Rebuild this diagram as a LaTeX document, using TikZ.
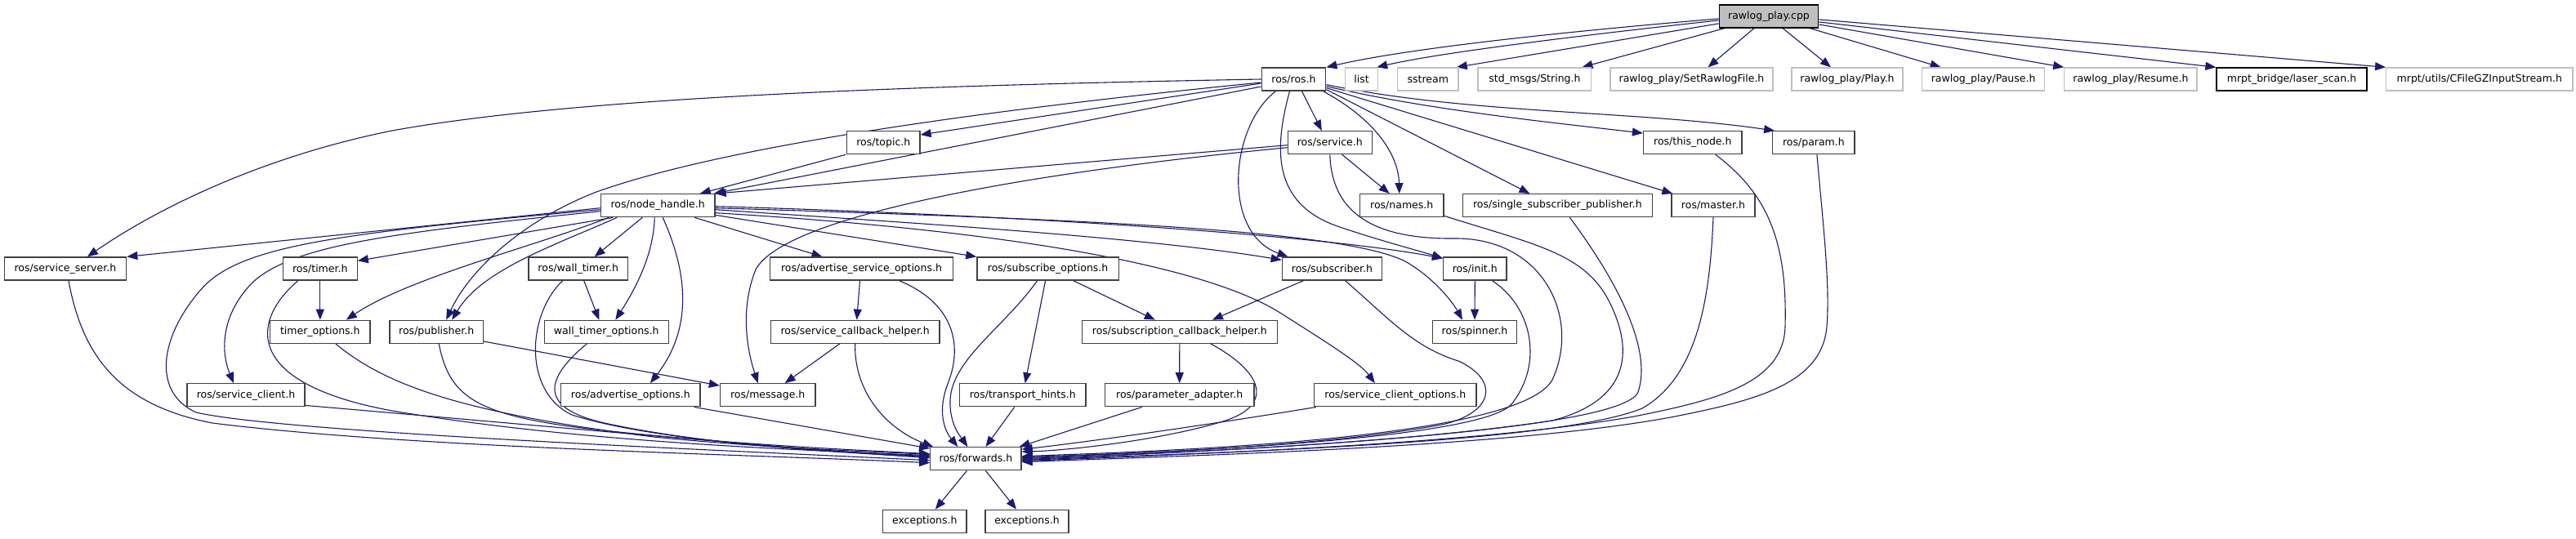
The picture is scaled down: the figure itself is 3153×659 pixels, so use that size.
\documentclass[tikz,border=0pt]{standalone}
\usepackage{fontspec}
\setmainfont{DejaVu Sans}
\usetikzlibrary{arrows.meta}
\definecolor{edgec}{HTML}{191970}
\definecolor{boxc}{HTML}{404040}
\definecolor{grayc}{HTML}{BFBFBF}
\pgfdeclarelayer{bg}
\pgfdeclarelayer{edges}
\pgfsetlayers{bg,edges,main}
\begin{document}
\begin{tikzpicture}[x=1pt,y=-1pt,
  box/.style={draw=boxc, line width=1.3pt, fill=white, minimum height=28pt, inner sep=0pt, font=\fontsize{12.5}{15}\selectfont},
  gbox/.style={box, draw=grayc},
  conn/.style={draw=edgec, line width=1.1pt, -{Triangle[length=13pt,width=10pt]}}]
\begin{pgfonlayer}{bg}
\fill[white] (0,0) rectangle (3153,659);
\end{pgfonlayer}
\useasboundingbox (0,0) rectangle (3153,659);
% row A
\node[box, fill=grayc, draw=black, minimum width=121.4pt] (root) at (2165,19.9) {rawlog\_play.cpp};
% row B
\node[box, minimum width=78.5pt] (ros) at (1583.5,97) {ros/ros.h};
\node[gbox, minimum width=39.8pt] (list) at (1666.6,97) {list};
\node[gbox, minimum width=74.5pt] (sstream) at (1747.8,97) {sstream};
\node[gbox, minimum width=138.8pt] (strh) at (1878.4,97) {std\_msgs/String.h};
\node[gbox, minimum width=199pt] (setf) at (2070.5,97) {rawlog\_play/SetRawlogFile.h};
\node[gbox, minimum width=136pt] (play) at (2261,97) {rawlog\_play/Play.h};
\node[gbox, minimum width=150.4pt] (pause) at (2427.6,97) {rawlog\_play/Pause.h};
\node[gbox, minimum width=162.3pt] (resume) at (2607.9,97) {rawlog\_play/Resume.h};
\node[box, draw=black, minimum width=184pt] (laser) at (2805,97) {mrpt\_bridge/laser\_scan.h};
\node[gbox, minimum width=228.2pt] (gz) at (3034.8,97) {mrpt/utils/CFileGZInputStream.h};
% row C
\node[box, minimum width=89.3pt] (topic) at (1081.3,174.7) {ros/topic.h};
\node[box, minimum width=103pt] (service) at (1627.8,174.7) {ros/service.h};
\node[box, minimum width=120.5pt] (thisnode) at (2071.8,174.7) {ros/this\_node.h};
\node[box, minimum width=100.3pt] (param) at (2219.9,174.7) {ros/param.h};
% row D
\node[box, minimum width=139.7pt] (nh) at (805.2,251.7) {ros/node\_handle.h};
\node[box, minimum width=102.7pt] (names) at (1715.7,251.7) {ros/names.h};
\node[box, minimum width=231.6pt] (ssp) at (1906.4,251.7) {ros/single\_subscriber\_publisher.h};
\node[box, minimum width=102pt] (master) at (2097,251.7) {ros/master.h};
% row E
\node[box, minimum width=149.5pt] (srvserver) at (79.9,329) {ros/service\_server.h};
\node[box, minimum width=90.8pt] (timer) at (391.8,329) {ros/timer.h};
\node[box, minimum width=121.4pt] (walltimer) at (707.7,329) {ros/wall\_timer.h};
\node[box, minimum width=223.4pt] (advsrvopt) at (1054.5,329) {ros/advertise\_service\_options.h};
\node[box, minimum width=173.5pt] (subopt) at (1282.6,329) {ros/subscribe\_options.h};
\node[box, minimum width=122.4pt] (subscriber) at (1630.5,329) {ros/subscriber.h};
\node[box, minimum width=77.3pt] (init) at (1805.3,329) {ros/init.h};
% row F
\node[box, minimum width=122.4pt] (timeropt) at (391.8,406.3) {timer\_options.h};
\node[box, minimum width=114.3pt] (publisher) at (534.2,406.3) {ros/publisher.h};
\node[box, minimum width=152pt] (walltimeropt) at (742.3,406.3) {wall\_timer\_options.h};
\node[box, minimum width=206.7pt] (srvcb) at (1046.7,406.3) {ros/service\_callback\_helper.h};
\node[box, minimum width=239pt] (subcb) at (1443.8,406.3) {ros/subscription\_callback\_helper.h};
\node[box, minimum width=103.4pt] (spinner) at (1805,406.3) {ros/spinner.h};
% row G
\node[box, minimum width=144pt] (srvclient) at (301,483.8) {ros/service\_client.h};
\node[box, minimum width=170.3pt] (advopt) at (771.9,483.8) {ros/advertise\_options.h};
\node[box, minimum width=116.4pt] (message) at (939.7,483.8) {ros/message.h};
\node[box, minimum width=154.6pt] (transport) at (1251.7,483.8) {ros/transport\_hints.h};
\node[box, minimum width=182.6pt] (paramadapt) at (1443.7,483.8) {ros/parameter\_adapter.h};
\node[box, minimum width=198.5pt] (srvclientopt) at (1707.8,483.8) {ros/service\_client\_options.h};
% row H, I
\node[box, minimum width=111.3pt] (forwards) at (1194.4,561.7) {ros/forwards.h};
\node[box, minimum width=102.5pt] (exc1) at (1131.8,638.3) {exceptions.h};
\node[box, minimum width=102pt] (exc2) at (1257,638.3) {exceptions.h};

\begin{pgfonlayer}{edges}
% root
\draw[conn] ([yshift=-3pt]root.west) .. controls (1900,40) and (1720,60) .. (ros.north east);
\draw[conn] ([yshift=-5pt]root.west) .. controls (1920,45) and (1760,65) .. ([xshift=-2pt]list.north east);
\draw[conn] ([yshift=-9pt]root.west) -- ([xshift=-3pt]sstream.north east);
\draw[conn] ([xshift=-54pt]root.south) -- ([xshift=58pt]strh.north);
\draw[conn] ([xshift=-18pt]root.south) -- ([xshift=20pt]setf.north);
\draw[conn] ([xshift=17pt]root.south) -- ([xshift=-20pt]play.north);
\draw[conn] ([xshift=50pt]root.south) -- ([xshift=-52pt]pause.north);
\draw[conn] ([yshift=-10pt]root.east) -- (resume.north west);
\draw[conn] ([yshift=-7pt]root.east) -- (laser.north west);
\draw[conn] ([yshift=-4pt]root.east) -- (gz.north west);
% ros
\draw[conn] (ros.west) .. controls (1100,105) and (700,120) .. (480,160) .. controls (330,190) and (200,250) .. ([xshift=27pt]srvserver.north);
\draw[conn] ([yshift=-4pt]ros.west) .. controls (1150,140) and (870,185) .. (730,235) .. controls (640,270) and (575,330) .. ([xshift=12pt]publisher.north);
\draw[conn] ([yshift=-5pt]ros.west) -- ([yshift=-5pt]topic.north east);
\draw[conn] ([yshift=-9pt]ros.west) -- ([xshift=-2pt]nh.north east);
\draw[conn] ([xshift=10pt]ros.south) -- ([xshift=-10pt]service.north);
\draw[conn] ([xshift=-4pt]ros.south east) .. controls (1690,150) and (1712,195) .. ([xshift=-3pt]names.north);
\draw[conn] ([yshift=2pt]ros.south east) -- ([xshift=-34pt]ssp.north);
\draw[conn] ([yshift=4pt]ros.south east) -- ([xshift=2pt]master.north west);
\draw[conn] ([yshift=6pt]ros.south east) .. controls (1750,135) and (1900,150) .. ([yshift=-3pt]thisnode.north west);
\draw[conn] ([yshift=8pt]ros.south east) .. controls (1800,140) and (2000,135) .. ([xshift=3pt]param.north west);
\draw[conn] ([xshift=-22pt]ros.south) .. controls (1505,155) and (1495,285) .. ([xshift=-54pt]subscriber.north);
\draw[conn] ([xshift=-5pt]ros.south) .. controls (1560,180) and (1555,250) .. (1640,278) .. controls (1690,295) and (1740,308) .. ([yshift=-2pt]init.north west);
% service
\draw[conn] ([yshift=-3pt]service.west) -- (nh.north east);
\draw[conn] ([xshift=15pt]service.south) -- ([xshift=-15pt]names.north);
\draw[conn] ([yshift=-6pt]service.west) .. controls (1250,212) and (960,265) .. (925,330) .. controls (905,380) and (915,430) .. ([xshift=-12pt]message.north);
\draw[conn] (service.south) .. controls (1630,260) and (1680,293) .. (1780,292) .. controls (1890,291) and (1935,390) .. (1900,465) .. controls (1860,540) and (1400,553) .. ([yshift=3pt]forwards.east);
% topic
\draw[conn] ([xshift=-1pt]topic.south west) -- ([xshift=-19pt]nh.north east);
% node_handle
\draw[conn] ([yshift=-3pt]nh.west) -- (srvserver.north east);
\draw[conn] ([yshift=-5pt]nh.west) .. controls (420,285) and (300,300) .. (250,350) .. controls (195,410) and (185,480) .. (240,505) .. controls (350,530) and (900,552) .. ([yshift=-2pt]forwards.west);
\draw[conn] ([yshift=-7pt]nh.west) .. controls (480,285) and (360,300) .. (310,345) .. controls (270,385) and (270,430) .. ([xshift=-15pt]srvclient.north);
\draw[conn] ([xshift=-55pt]nh.south) -- ([yshift=-5pt]timer.north east);
\draw[conn] ([xshift=-60pt]nh.south) .. controls (660,300) and (500,340) .. ([xshift=32pt]timeropt.north);
\draw[conn] ([xshift=-50pt]nh.south) .. controls (680,300) and (590,330) .. ([xshift=19pt]publisher.north);
\draw[conn] ([xshift=-19pt]nh.south) -- ([xshift=20pt]walltimer.north);
\draw[conn] ([xshift=-4pt]nh.south) .. controls (800,310) and (780,350) .. ([xshift=11pt]walltimeropt.north);
\draw[conn] ([xshift=6pt]nh.south) .. controls (840,330) and (850,400) .. ([xshift=24pt]advopt.north);
\draw[conn] ([xshift=45pt]nh.south) -- ([xshift=-48pt]advsrvopt.north);
\draw[conn] ([yshift=3pt]nh.south east) -- (subopt.north west);
\draw[conn] ([yshift=-5pt]nh.east) .. controls (1100,272) and (1400,290) .. ([yshift=-4pt]subscriber.north west);
\draw[conn] ([yshift=-1pt]nh.east) .. controls (1200,262) and (1600,285) .. ([yshift=-2pt]init.north west);
\draw[conn] ([yshift=-3pt]nh.east) .. controls (1300,268) and (1640,280) .. (1720,320) .. controls (1755,340) and (1778,370) .. ([xshift=-15pt]spinner.north);
\draw[conn] ([yshift=-9pt]nh.east) .. controls (1200,280) and (1470,320) .. (1570,385) .. controls (1625,420) and (1665,445) .. ([xshift=-25pt]srvclientopt.north);
% second level
\draw[conn] ([xshift=4pt]srvserver.south) .. controls (100,430) and (140,495) .. (260,518) .. controls (500,548) and (900,556) .. ([yshift=-5pt]forwards.west);
\draw[conn] (timer.south) -- (timeropt.north);
\draw[conn] ([xshift=-27pt]timer.south) .. controls (305,395) and (300,470) .. (480,503) .. controls (700,540) and (950,550) .. ([yshift=4pt]forwards.west);
\draw[conn] ([xshift=19pt]timeropt.south) .. controls (470,470) and (560,505) .. (800,535) .. controls (950,550) and (1080,553) .. ([yshift=5pt]forwards.west);
\draw[conn] ([xshift=3pt]publisher.south) .. controls (550,485) and (580,508) .. (720,525) .. controls (900,545) and (1050,551) .. ([yshift=6pt]forwards.west);
\draw[conn] ([yshift=3pt]publisher.south east) -- ([yshift=-3pt]message.north west);
\draw[conn] ([xshift=7pt]walltimer.south) -- ([xshift=-9pt]walltimeropt.north);
\draw[conn] ([xshift=-19pt]walltimer.south) .. controls (645,385) and (640,480) .. (700,508) .. controls (800,540) and (1000,552) .. ([yshift=3pt]forwards.west);
\draw[conn] ([xshift=-24pt]walltimeropt.south) .. controls (665,465) and (660,500) .. (740,518) .. controls (850,542) and (1000,553) .. ([yshift=2pt]forwards.west);
\draw[conn] ([yshift=2pt]srvclient.south east) .. controls (650,520) and (950,548) .. ([yshift=1pt]forwards.west);
\draw[conn] ([xshift=-8pt]advopt.south east) -- ([yshift=-2pt]forwards.north west);
\draw[conn] ([xshift=-2pt]advsrvopt.south) -- ([xshift=2pt]srvcb.north);
\draw[conn] ([xshift=46pt]advsrvopt.south) .. controls (1165,370) and (1180,420) .. (1160,470) .. controls (1145,510) and (1160,532) .. ([xshift=-22pt]forwards.north);
\draw[conn] ([xshift=-19pt]srvcb.south) -- ([xshift=21pt]message.north);
\draw[conn] (srvcb.south) .. controls (1045,480) and (1085,525) .. ([xshift=4pt]forwards.north west);
\draw[conn] ([xshift=-3pt]subopt.south) -- ([xshift=3pt]transport.north);
\draw[conn] ([xshift=-13pt]subopt.south) .. controls (1230,400) and (1165,440) .. (1163,490) .. controls (1162,520) and (1176,535) .. ([xshift=-10pt]forwards.north);
\draw[conn] ([xshift=31pt]subopt.south) -- ([xshift=-30pt]subcb.north);
\draw[conn] ([xshift=-35pt]subscriber.south) -- ([xshift=40pt]subcb.north);
\draw[conn] ([xshift=16pt]subscriber.south) .. controls (1700,390) and (1730,425) .. (1785,442) .. controls (1835,465) and (1830,505) .. (1765,520) .. controls (1600,550) and (1350,556) .. ([yshift=1pt]forwards.east);
\draw[conn] (init.south) -- (spinner.north);
\draw[conn] ([xshift=21pt]init.south) .. controls (1875,375) and (1890,445) .. (1850,495) .. controls (1810,540) and (1400,555) .. ([yshift=2pt]forwards.east);
\draw[conn] ([xshift=3pt]srvclientopt.south west) .. controls (1450,525) and (1300,545) .. ([yshift=-3pt]forwards.north east);
\draw[conn] (subcb.south) -- (paramadapt.north);
\draw[conn] ([xshift=38pt]subcb.south) .. controls (1545,455) and (1560,495) .. (1500,515) .. controls (1420,540) and (1300,552) .. ([yshift=-6pt]forwards.north east);
\draw[conn] ([xshift=-10pt]transport.south) -- ([xshift=12pt]forwards.north);
\draw[conn] ([xshift=-46pt]paramadapt.south) -- ([xshift=-3pt]forwards.north east);
\draw[conn] ([xshift=-11pt]forwards.south) -- ([xshift=13pt]exc1.north);
\draw[conn] ([xshift=12pt]forwards.south) -- ([xshift=-13pt]exc2.north);
% right group into forwards
\draw[conn] ([yshift=2pt]names.south east) .. controls (1880,300) and (1940,310) .. (1970,370) .. controls (2000,430) and (1995,490) .. (1900,515) .. controls (1700,545) and (1400,556) .. (forwards.east);
\draw[conn] ([xshift=15pt]ssp.south) .. controls (1965,325) and (2025,420) .. (2005,480) .. controls (1985,530) and (1500,552) .. ([yshift=-1pt]forwards.east);
\draw[conn] (master.south) .. controls (2093,360) and (2080,460) .. (2010,500) .. controls (1900,545) and (1450,555) .. ([yshift=-2pt]forwards.east);
\draw[conn] ([xshift=28pt]thisnode.south) .. controls (2160,235) and (2188,290) .. (2185,400) .. controls (2183,470) and (2100,490) .. (2000,510) .. controls (1800,545) and (1450,556) .. ([yshift=-3pt]forwards.east);
\draw[conn] ([xshift=4pt]param.south) .. controls (2232,280) and (2240,350) .. (2236,400) .. controls (2230,470) and (2150,490) .. (2050,510) .. controls (1850,548) and (1450,558) .. ([yshift=-4pt]forwards.east);
\end{pgfonlayer}
\end{tikzpicture}
\end{document}
